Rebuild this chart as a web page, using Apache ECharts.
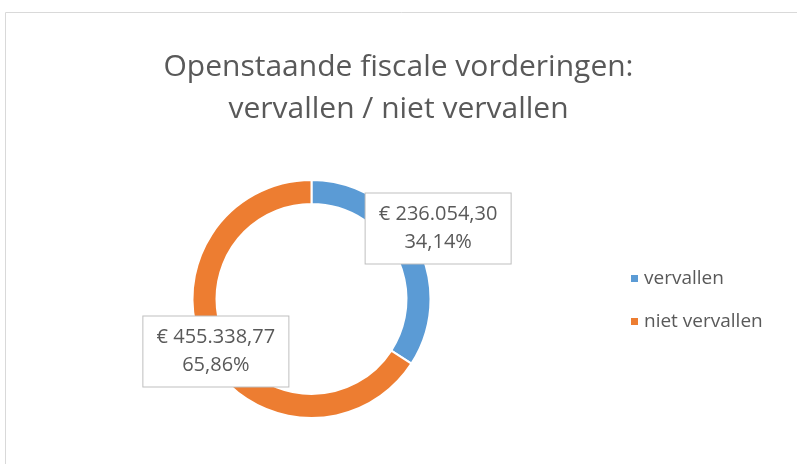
<!DOCTYPE html>
<html>
<head>
<meta charset="utf-8">
<script src="https://cdn.jsdelivr.net/npm/echarts@6/dist/echarts.min.js"></script>
<style>
  html, body {margin: 0; padding: 0; background: #fff;}
  #chart {width: 797px; height: 464px;}
</style>
</head>
<body>
<div id="chart"></div>
<script>
const categories = ["vervallen", "niet vervallen"];
const amounts = [236054.30, 455338.77];
const sliceColors = ["#5b9bd5", "#ed7d31"];
const titleLines = ["Openstaande fiscale vorderingen:", "vervallen / niet vervallen"];

const total = amounts.reduce((a, b) => a + b, 0);
const FONT = "'Open Sans', 'Noto Sans', sans-serif";
const TEXT = "#595959";

function formatEuro(value) {
  const [intPart, dec] = value.toFixed(2).split(".");
  return "€ " + intPart.replace(/\B(?=(\d{3})+(?!\d))/g, ".") + "," + dec;
}

function formatPercent(value) {
  return (value / total * 100).toFixed(2).replace(".", ",") + "%";
}

// label nudges relative to the slice midpoint, in pixels
const labelOffsets = [[30, -18], [1, 0]];

const chart = echarts.init(document.getElementById("chart"));
chart.setOption({
  animation: false,
  color: sliceColors,
  title: {
    text: titleLines.join("\n"),
    left: "center",
    top: 41,
    textStyle: {fontFamily: FONT, fontSize: 30, fontWeight: "normal", color: TEXT, lineHeight: 42},
  },
  legend: {
    orient: "vertical",
    left: 624,
    top: 264,
    itemWidth: 9,
    itemHeight: 9,
    itemGap: 24,
    icon: "rect",
    textStyle: {fontFamily: FONT, fontSize: 19, color: TEXT},
    data: categories,
  },
  graphic: [{
    type: "rect",
    shape: {x: 5.5, y: 12.5, width: 900, height: 600},
    style: {fill: "none", stroke: "#d9d9d9", lineWidth: 1},
    silent: true,
  }],
  series: [{
    type: "pie",
    center: [311.5, 299],
    radius: [95, 119],
    startAngle: 90,
    clockwise: true,
    itemStyle: {borderColor: "#fff", borderWidth: 2},
    label: {
      show: true,
      position: "inside",
      fontFamily: FONT,
      fontSize: 20,
      color: TEXT,
      lineHeight: 28,
      align: "center",
      backgroundColor: "#fff",
      borderColor: "#bfbfbf",
      borderWidth: 1,
      width: 125,
      padding: [7, 10],
      formatter: p => formatEuro(p.value) + "\n" + formatPercent(p.value),
    },
    labelLayout: p => ({dx: labelOffsets[p.dataIndex][0], dy: labelOffsets[p.dataIndex][1]}),
    emphasis: {disabled: true},
    data: categories.map((name, i) => ({name, value: amounts[i]})),
  }],
});
</script>
</body>
</html>
